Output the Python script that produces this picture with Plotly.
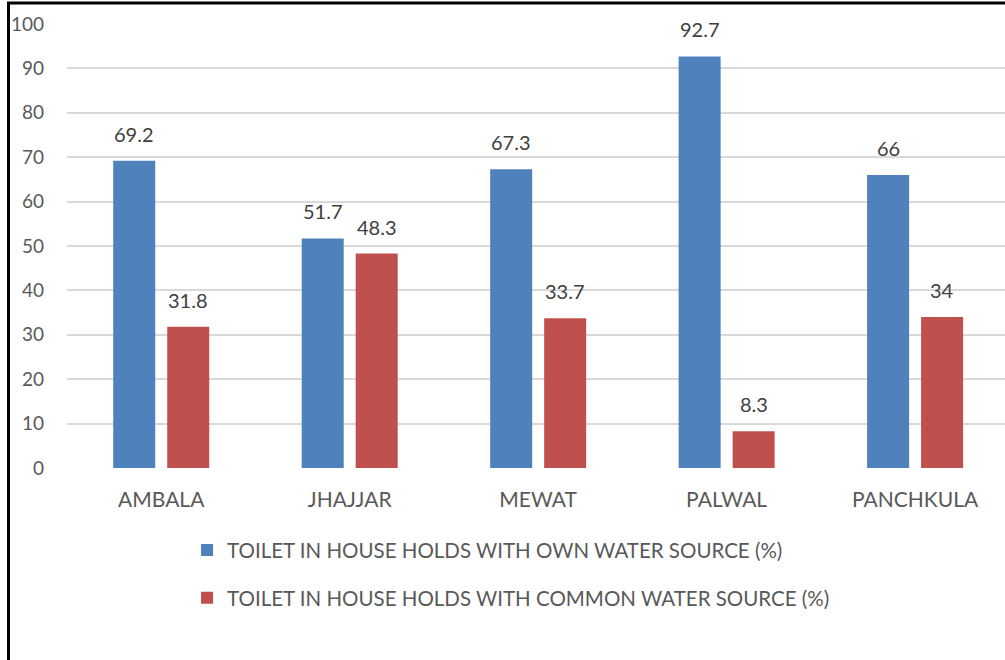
import plotly.graph_objects as go

districts = ["AMBALA", "JHAJJAR", "MEWAT", "PALWAL", "PANCHKULA"]
own_source = [69.2, 51.7, 67.3, 92.7, 66]
common_source = [31.8, 48.3, 33.7, 8.3, 34]
series_names = [
    "TOILET IN HOUSE HOLDS WITH OWN WATER SOURCE (%)",
    "TOILET IN HOUSE HOLDS WITH COMMON WATER SOURCE (%)",
]
y_ticks = [0, 10, 20, 30, 40, 50, 60, 70, 80, 90, 100]

BLUE = "#4F81BD"
RED = "#C0504D"
TEXT = "#595959"
LABEL = "#404040"
FONT = "Lato"

fig = go.Figure()
fig.add_trace(go.Bar(
    x=districts, y=own_source, name=series_names[0],
    marker=dict(color=BLUE, line=dict(width=0)), legendgroup="a",
))
fig.add_trace(go.Bar(
    x=districts, y=common_source, name=series_names[1],
    marker=dict(color=RED, line=dict(width=0)), legendgroup="b",
))

# value labels above each bar, offset to the bar's slot in the group
for values, dx in ((own_source, -27), (common_source, 27)):
    for d, v in zip(districts, values):
        fig.add_annotation(
            x=d, y=v, text=f"{v:g}", showarrow=False,
            xshift=dx, yshift=13, yanchor="bottom",
            font=dict(family=FONT, size=20, color=LABEL),
        )

# frame lines on the left and top edges of the page
fig.add_shape(type="line", xref="paper", yref="paper",
              xsizemode="pixel", xanchor=0, x0=-58.5, x1=-58.5,
              ysizemode="pixel", yanchor=1, y0=22, y1=-660,
              line=dict(color="#000000", width=3))
fig.add_shape(type="line", xref="paper", yref="paper",
              xsizemode="pixel", xanchor=0, x0=-60, x1=1000,
              ysizemode="pixel", yanchor=1, y0=21, y1=21,
              line=dict(color="#000000", width=3))

fig.update_layout(
    width=1005, height=660,
    margin=dict(l=67, r=0, t=24, b=192, pad=0),
    paper_bgcolor="white", plot_bgcolor="white",
    barmode="group", bargap=0.427, bargroupgap=0.222,
    font=dict(family=FONT, size=16, color=TEXT),
    showlegend=True,
    legend=dict(
        orientation="v", x=0.128, xanchor="left", y=-0.14, yanchor="top",
        font=dict(family=FONT, size=20.5, color=TEXT),
        tracegroupgap=18, itemwidth=30, bgcolor="rgba(0,0,0,0)",
    ),
    xaxis=dict(
        range=[-0.5, 4.477], showgrid=False, zeroline=False,
        showline=False, ticks="", ticklabelstandoff=17,
        tickfont=dict(family=FONT, size=21, color=TEXT),
    ),
    yaxis=dict(
        range=[0, 100], tickvals=y_ticks, showgrid=True,
        gridcolor="#D9D9D9", gridwidth=1.5, zeroline=False,
        showline=False, ticks="", ticklabelstandoff=22,
        tickfont=dict(family=FONT, size=19, color=TEXT),
    ),
)

fig.write_html("out.html")
